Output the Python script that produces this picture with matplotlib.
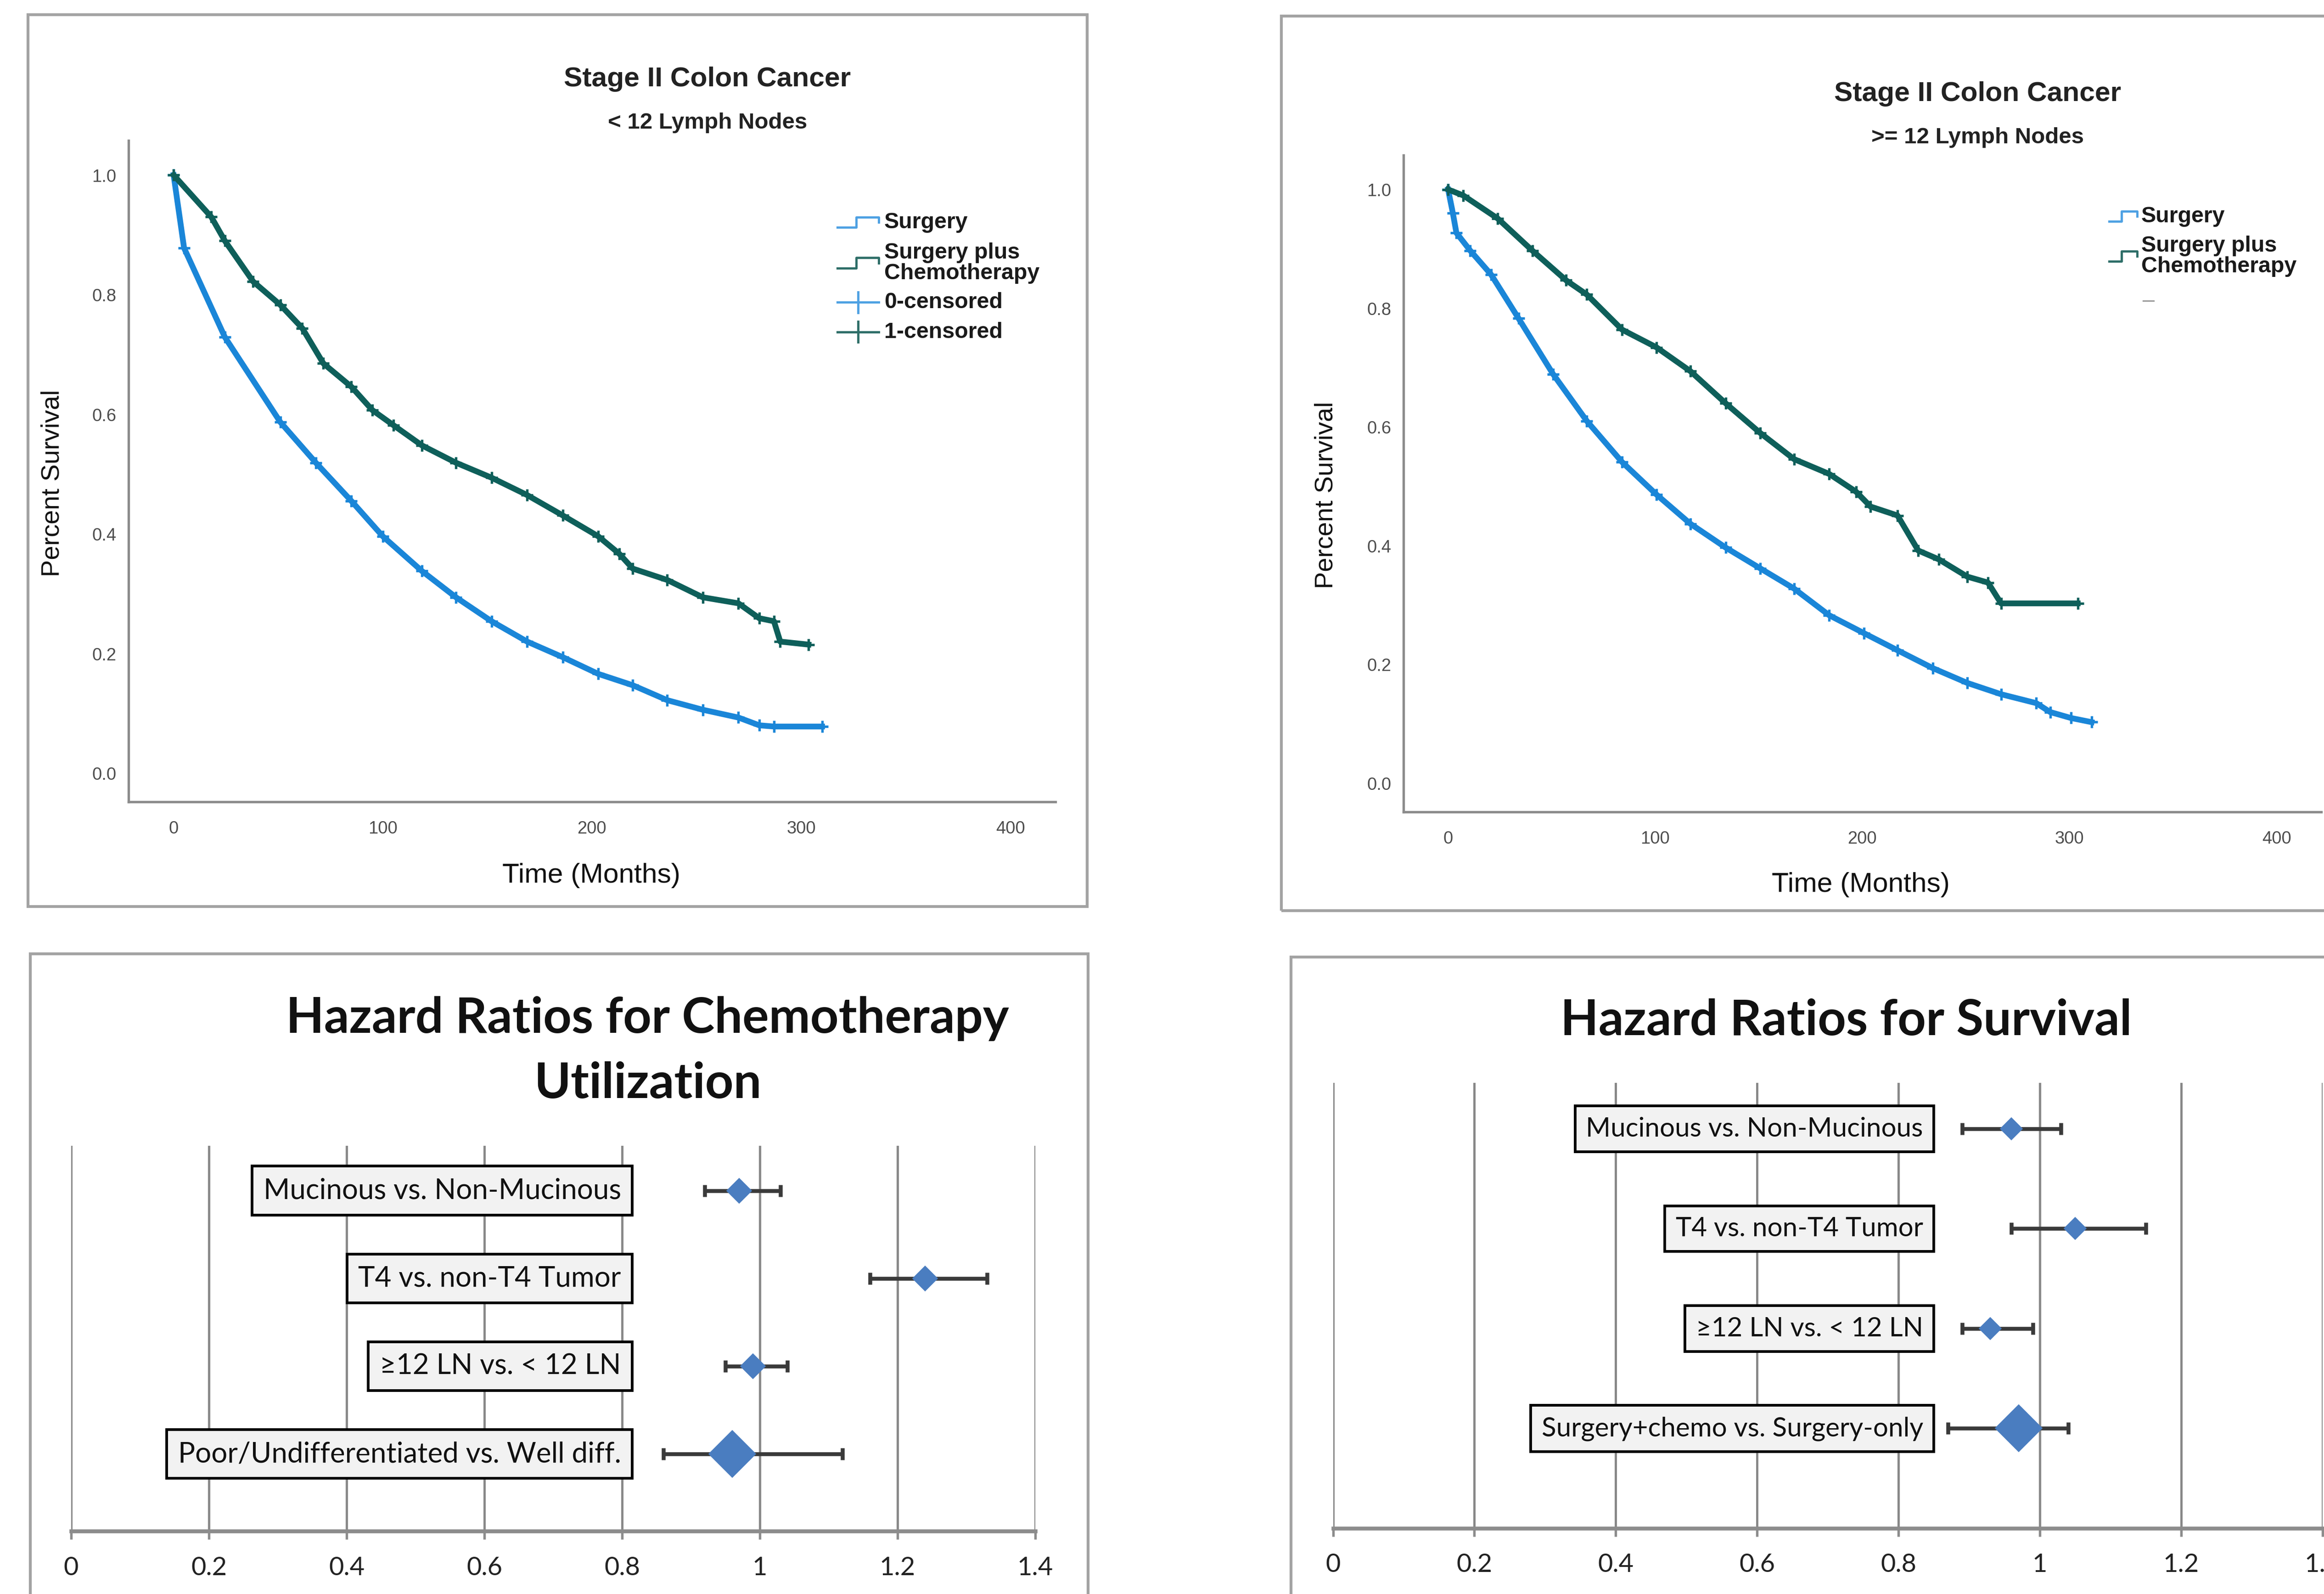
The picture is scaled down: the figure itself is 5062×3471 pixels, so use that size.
import numpy as np
import matplotlib.pyplot as plt
from matplotlib.lines import Line2D
from matplotlib.patches import Rectangle

# Kaplan-Meier curves (months, survival fraction)
lt12_surgery_t = [0, 5, 24.5, 51, 68, 85, 100, 118.7, 135, 152, 169, 186, 203, 219.5, 236, 253, 270, 280, 287, 310]
lt12_surgery_s = [1.0, 0.878, 0.729, 0.587, 0.519, 0.455, 0.396, 0.338, 0.294, 0.254, 0.220, 0.194, 0.166,
                  0.147, 0.122, 0.106, 0.093, 0.080, 0.078, 0.078]
lt12_chemo_t = [0, 18, 24.5, 38, 51, 61.5, 71.6, 85, 95, 105, 118.7, 135, 152, 169, 186, 203, 213, 219.5,
                236, 253, 270, 280, 287, 290, 303.5]
lt12_chemo_s = [1.0, 0.93, 0.89, 0.822, 0.783, 0.744, 0.685, 0.646, 0.607, 0.582, 0.548, 0.519, 0.494, 0.465,
                0.431, 0.396, 0.367, 0.342, 0.323, 0.294, 0.284, 0.259, 0.254, 0.220, 0.215]

gte12_surgery_t = [0, 2.3, 4, 10.7, 20.7, 34, 50.7, 67, 84, 100.7, 117, 134, 150.7, 167, 184, 200.7, 217,
                   234, 250.7, 267, 284, 290.7, 300.7, 310.7]
gte12_surgery_s = [1.0, 0.96, 0.927, 0.897, 0.857, 0.783, 0.689, 0.610, 0.541, 0.486, 0.437, 0.397, 0.362,
                   0.328, 0.283, 0.253, 0.224, 0.194, 0.169, 0.150, 0.135, 0.120, 0.110, 0.103]
gte12_chemo_t = [0, 7.3, 24, 40.7, 57, 67, 84, 100.7, 117, 134, 150.7, 167, 184, 197, 204, 217, 227, 237,
                 250.7, 260.7, 267, 304]
gte12_chemo_s = [1.0, 0.99, 0.951, 0.897, 0.847, 0.823, 0.764, 0.734, 0.694, 0.640, 0.590, 0.546, 0.521,
                 0.491, 0.466, 0.451, 0.392, 0.377, 0.348, 0.338, 0.303, 0.303]

km_xticks = [0, 100, 200, 300, 400]
km_yticks = [0.0, 0.2, 0.4, 0.6, 0.8, 1.0]

# hazard ratios with confidence limits, top row first
chemo_labels = ["Mucinous vs. Non-Mucinous", "T4 vs. non-T4 Tumor", "\u226512 LN vs. < 12 LN",
                "Poor/Undifferentiated vs. Well diff."]
chemo_hr = [0.97, 1.24, 0.99, 0.96]
chemo_lo = [0.92, 1.16, 0.95, 0.86]
chemo_hi = [1.03, 1.33, 1.04, 1.12]

surv_labels = ["Mucinous vs. Non-Mucinous", "T4 vs. non-T4 Tumor", "\u226512 LN vs. < 12 LN",
               "Surgery+chemo vs. Surgery-only"]
surv_hr = [0.96, 1.05, 0.93, 0.97]
surv_lo = [0.89, 0.96, 0.89, 0.87]
surv_hi = [1.03, 1.15, 0.99, 1.04]

hr_ticks = [0, 0.2, 0.4, 0.6, 0.8, 1.0, 1.2, 1.4]

BLUE = '#1a86d8'
TEAL = '#0e5f5a'
SPSS = ['Liberation Sans', 'DejaVu Sans']
XL = ['Lato', 'DejaVu Sans']
plt.rcParams['font.family'] = SPSS

# layout is worked out on a 1568 px wide grid (1 grid px = 0.72 pt)
DPI = 5062 / 15.68
fig = plt.figure(figsize=(15.68, 3471.4 / DPI), dpi=DPI)
W = 1568.0
H = 3471.4 / DPI * 100


def rect(l, t, r, b):
    return [l / W, 1 - b / H, (r - l) / W, (b - t) / H]


def ftext(x, y, s, **kw):
    fig.text(x / W, 1 - y / H, s, ha='center', va='center', **kw)


def fline(xs, ys, **kw):
    fig.add_artist(Line2D([x / W for x in xs], [1 - y / H for y in ys], transform=fig.transFigure, **kw))


def frame(l, t, r, b):
    fig.add_artist(Rectangle((l / W, 1 - b / H), (r - l) / W, (b - t) / H, transform=fig.transFigure,
                             fill=False, ec='#a3a3a3', lw=1.4))


# panel frames
frame(19, 10, 733.6, 611.7)
frame(864.4, 11, 1600, 614.4)
frame(20.4, 643.5, 734, 1100)
frame(871, 645.7, 1600, 1100)


def km_panel(ax, curves):
    for t, s, c in curves:
        ax.plot(t, s, color=c, lw=2.8, marker='+', ms=6, mew=1.2, solid_joinstyle='round')
    ax.set_xlim(-21.5, 421.5)
    ax.set_ylim(-0.048, 1.058)
    ax.set_xticks(km_xticks)
    ax.set_yticks(km_yticks)
    ax.yaxis.set_major_formatter('{x:.1f}')
    for sp in ['top', 'right']:
        ax.spines[sp].set_visible(False)
    for sp in ['left', 'bottom']:
        ax.spines[sp].set_color('#8c8c8c')
        ax.spines[sp].set_linewidth(1.2)
    ax.tick_params(length=0, labelsize=8.5, labelcolor='#4d4d4d')
    ax.tick_params(axis='y', pad=6)
    ax.tick_params(axis='x', pad=9)


ax1 = fig.add_axes(rect(86.8, 94.8, 712, 541))
km_panel(ax1, [(lt12_surgery_t, lt12_surgery_s, BLUE), (lt12_chemo_t, lt12_chemo_s, TEAL)])
ax2 = fig.add_axes(rect(947, 104.7, 1566, 547.7))
km_panel(ax2, [(gte12_surgery_t, gte12_surgery_s, BLUE), (gte12_chemo_t, gte12_chemo_s, TEAL)])

ftext(477.3, 53.4, 'Stage II Colon Cancer', fontsize=13.5, fontweight='bold', color='#222')
ftext(477.5, 83, '< 12 Lymph Nodes', fontsize=11, fontweight='bold', color='#222')
ftext(1334.4, 63.2, 'Stage II Colon Cancer', fontsize=13.5, fontweight='bold', color='#222')
ftext(1334.4, 92.8, '>= 12 Lymph Nodes', fontsize=11, fontweight='bold', color='#222')
ftext(35.6, 326, 'Percent Survival', fontsize=12.5, rotation=90, color='#111')
ftext(398.8, 590.7, 'Time (Months)', fontsize=13.5, color='#111')
ftext(894.8, 334, 'Percent Survival', fontsize=12.5, rotation=90, color='#111')
ftext(1255.5, 596.7, 'Time (Months)', fontsize=13.5, color='#111')

LEG_BLUE = '#4ea1e3'
LEG_TEAL = '#2e6e68'


def step_handle(x0, y, w, color):
    fline([x0, x0 + 0.45 * w, x0 + 0.45 * w, x0 + w, x0 + w], [y + 3.5, y + 3.5, y - 3.5, y - 3.5, y],
          color=color, lw=1.1)


def cross_handle(x0, y, w, color):
    fline([x0, x0 + w], [y, y], color=color, lw=1.1)
    fline([x0 + 0.5 * w, x0 + 0.5 * w], [y - 7, y + 7], color=color, lw=1.1)


def ltext(x, y, s):
    fig.text(x / W, 1 - y / H, s, ha='left', va='center', fontsize=10.8, fontweight='bold',
             color='#1a1a1a', linespacing=1.0)


# legend, left panel
step_handle(565, 150, 28, LEG_BLUE)
ltext(596.5, 150, 'Surgery')
step_handle(565, 177.5, 28, LEG_TEAL)
ltext(596.5, 177.5, 'Surgery plus\nChemotherapy')
cross_handle(565, 204, 28, LEG_BLUE)
ltext(596.5, 204, '0-censored')
cross_handle(565, 224, 28, LEG_TEAL)
ltext(596.5, 224, '1-censored')

# legend, right panel
step_handle(1423, 146, 19, LEG_BLUE)
ltext(1444.6, 146, 'Surgery')
step_handle(1423, 173, 19, LEG_TEAL)
ltext(1444.6, 173, 'Surgery plus\nChemotherapy')
fline([1446, 1453], [203, 203], color='#9a9a9a', lw=0.7)


def hr_panel(ax, labels, hr, lo, hi, ylim, box_right, fs, ms_small):
    hr = np.array(hr)
    rows = np.arange(len(labels), 0, -1)
    ax.errorbar(hr, rows, xerr=[hr - np.array(lo), np.array(hi) - hr], fmt='none', ecolor='#3a3a3a',
                elinewidth=1.9, capsize=3, capthick=1.9, zorder=3)
    for i in range(len(labels)):
        ms = 15.5 if i == len(labels) - 1 else ms_small
        ax.plot(hr[i], rows[i], 'D', ms=ms, color='#4a7dc0', mec='#4a7dc0', zorder=4)
        ax.annotate(labels[i], xy=(box_right, rows[i]), xytext=(-0.4 * fs, 0), textcoords='offset points',
                    ha='right', va='center', fontsize=fs, family=XL, color='#111',
                    bbox=dict(boxstyle='square,pad=0.4', fc='#f2f2f2', ec='black', lw=1.3), zorder=5)
    ax.set_xlim(0, 1.4)
    ax.set_ylim(*ylim)
    ax.set_xticks(hr_ticks)
    ax.set_xticklabels([f'{v:g}' for v in hr_ticks], family=XL)
    ax.set_yticks([])
    ax.grid(axis='x', color='#888888', lw=1.1)
    ax.set_axisbelow(True)
    for sp in ['top', 'right', 'left']:
        ax.spines[sp].set_visible(False)
    ax.spines['bottom'].set_color('#8c8c8c')
    ax.spines['bottom'].set_linewidth(1.9)
    ax.tick_params(axis='x', length=4, width=1.2, color='#8c8c8c', pad=8, labelsize=12.5, labelcolor='#222')
    ax.patch.set_alpha(0)


ax3 = fig.add_axes(rect(48, 773, 698.5, 1033))
hr_panel(ax3, chemo_labels, chemo_hr, chemo_lo, chemo_hi, (0.12, 4.51), 0.815, 13.8, 7.8)
ax4 = fig.add_axes(rect(899.4, 730.5, 1567, 1031))
hr_panel(ax4, surv_labels, surv_hr, surv_lo, surv_hi, (0.0, 4.46), 0.85, 13, 7.0)

ftext(437, 687, 'Hazard Ratios for Chemotherapy', fontsize=24, fontweight='bold', family=XL, color='#111')
ftext(437, 731, 'Utilization', fontsize=24, fontweight='bold', family=XL, color='#111')
ftext(1245.5, 688.5, 'Hazard Ratios for Survival', fontsize=24, fontweight='bold', family=XL, color='#111')

fig.savefig('out.png', dpi=DPI, facecolor='white')
